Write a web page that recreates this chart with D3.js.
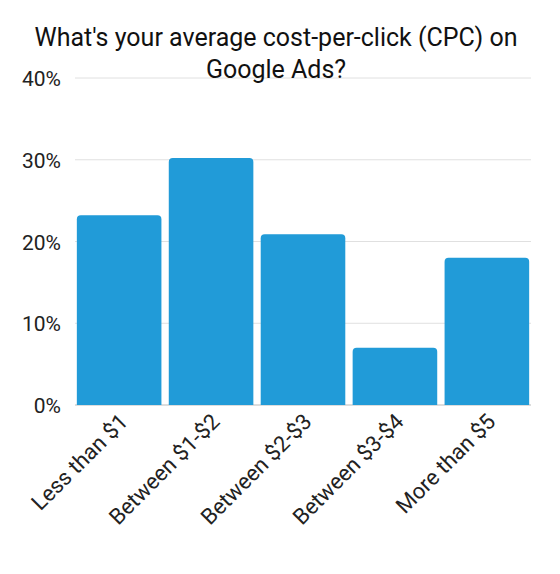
<!DOCTYPE html>
<html><head><meta charset="utf-8">
<script src="https://cdn.jsdelivr.net/npm/d3@7"></script>
<style>body{margin:0;background:#fff}text{font-family:Roboto,sans-serif}</style>
</head><body><div class="canvas"></div>
<script>
const categories = ['Less than $1','Between $1-$2','Between $2-$3','Between $3-$4','More than $5']
const values = [23.2, 30.2, 20.9, 7.0, 18.0]
const yTicks = [0, 10, 20, 30, 40]
const titleLines = ["What's your average cost-per-click (CPC) on", 'Google Ads?']

const dims = {width:560, height:574, left:75, right:531, top:78, bottom:405}

const svg = d3.select('.canvas').append('svg')
    .attr('width', dims.width).attr('height', dims.height)

const x = d3.scaleBand().domain(categories).range([dims.left, dims.right]).paddingInner(0.08).paddingOuter(0.02)
const y = d3.scaleLinear().domain([0, 40]).range([dims.bottom, dims.top])

// grid
svg.selectAll('.grid').data(yTicks).enter().append('line')
    .attr('x1', dims.left).attr('x2', dims.right)
    .attr('y1', d => y(d)).attr('y2', d => y(d))
    .attr('stroke', d => d === 0 ? '#bbb' : '#e0e0e0').attr('stroke-width', 1)

svg.selectAll('.ytick').data(yTicks).enter().append('text')
    .attr('x', 61).attr('y', d => y(d) + 8)
    .attr('text-anchor', 'end').attr('font-size', 21).attr('fill', '#222')
    .text(d => d + '%')

// bars with rounded top corners
const r = 4
svg.selectAll('.bar').data(values).enter().append('path')
    .attr('fill', '#219bd8')
    .attr('d', (d, i) => {
        const x0 = x(categories[i]), w = x.bandwidth(), y0 = y(d), yb = y(0)
        return `M${x0},${yb}V${y0 + r}Q${x0},${y0} ${x0 + r},${y0}H${x0 + w - r}Q${x0 + w},${y0} ${x0 + w},${y0 + r}V${yb}Z`
    })

// x labels
svg.selectAll('.xlab').data(categories).enter().append('text')
    .attr('transform', d => `translate(${x(d) + x.bandwidth() / 2 + 10},${dims.bottom + 18}) rotate(-45)`)
    .attr('text-anchor', 'end').attr('font-size', 22).attr('fill', '#222')
    .text(d => d)

svg.selectAll('.title').data(titleLines).enter().append('text')
    .attr('x', 276).attr('y', (d, i) => 46 + i * 32)
    .attr('text-anchor', 'middle').attr('font-size', 25).attr('fill', '#111')
    .text(d => d)
</script></body></html>
